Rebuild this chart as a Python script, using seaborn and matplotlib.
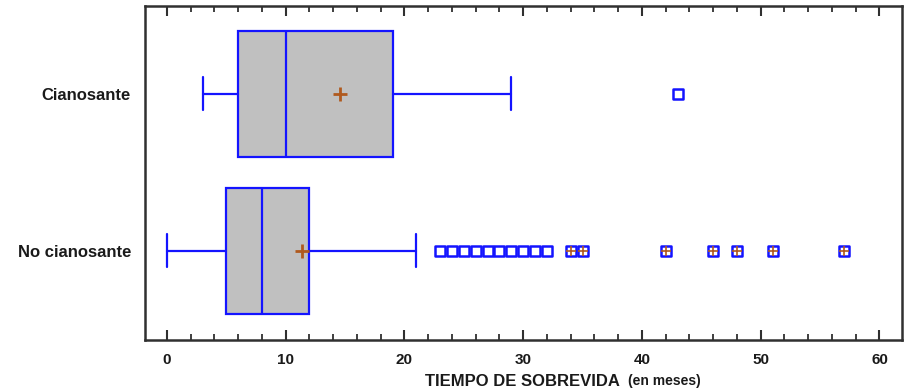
import matplotlib
matplotlib.use("Agg")
import matplotlib.pyplot as plt
import seaborn as sns
import pandas as pd
from matplotlib.ticker import MultipleLocator

# ---- data ----
categories = ["Cianosante", "No cianosante"]
whislo = [3, 0]
q1 = [6, 5]
median = [10, 8]
q3 = [19, 12]
whishi = [29, 21]
means = [14.6, 11.4]
outliers_cian = [43]
outliers_no = [23, 24, 25, 26, 27, 28, 29, 30, 31, 32, 34, 35, 42, 46, 48, 51, 57]
far_outliers_no = [34, 35, 42, 46, 48, 51, 57]
xlabel_main = "TIEMPO DE SOBREVIDA"
xlabel_unit = "(en meses)"

sns.set_theme(style="white")
plt.rcParams["font.family"] = ["Liberation Sans", "DejaVu Sans"]

BLUE = "#1414ff"
GRAY = "#c0c0c0"
MEANC = "#b0591e"
SPINE = "#303030"
TXT = "#1a1a1a"

fig = plt.figure(figsize=(9.08, 3.92), dpi=100)
ax = fig.add_axes([145 / 908, 1 - 340 / 392, (902 - 145) / 908, (340 - 6) / 392])

stats = []
for i, c in enumerate(categories):
    stats.append(dict(label=c, whislo=whislo[i], q1=q1[i], med=median[i],
                      q3=q3[i], whishi=whishi[i], fliers=[]))

ax.bxp(stats, positions=[0, 1], widths=0.8, orientation="horizontal",
       patch_artist=True, manage_ticks=False, capwidths=0.21,
       boxprops=dict(facecolor=GRAY, edgecolor=BLUE, linewidth=1.6),
       medianprops=dict(color=BLUE, linewidth=1.6),
       whiskerprops=dict(color=BLUE, linewidth=1.6),
       capprops=dict(color=BLUE, linewidth=1.6))

# outliers
fl = pd.DataFrame({
    "x": outliers_cian + outliers_no,
    "y": [0] * len(outliers_cian) + [1] * len(outliers_no),
})
sns.scatterplot(data=fl, x="x", y="y", ax=ax, marker="s", s=50,
                facecolor="white", edgecolor=BLUE, linewidth=1.8, zorder=4)

far = pd.DataFrame({"x": far_outliers_no, "y": [1] * len(far_outliers_no)})
sns.scatterplot(data=far, x="x", y="y", ax=ax, marker="+", s=45,
                color=MEANC, linewidth=1.2, zorder=5)

mn = pd.DataFrame({"x": means, "y": [0, 1]})
sns.scatterplot(data=mn, x="x", y="y", ax=ax, marker="+", s=110,
                color=MEANC, linewidth=2.0, zorder=5)

ax.set_xlim(-1.85, 61.9)
ax.set_ylim(1.567, -0.56)
ax.set_yticks([0, 1])
ax.set_yticklabels(categories, fontsize=12, fontweight="bold", color=TXT)
ax.set_xticks(range(0, 61, 10))
ax.set_xticklabels([str(v) for v in range(0, 61, 10)], fontsize=11,
                   fontweight="bold", color=TXT)
ax.xaxis.set_minor_locator(MultipleLocator(2))
ax.tick_params(axis="x", which="major", direction="in", length=7, width=1.5,
               top=True, bottom=True, color=SPINE, pad=9)
ax.tick_params(axis="x", which="minor", direction="in", length=4.5, width=1.3,
               top=True, bottom=True, color=SPINE)
ax.tick_params(axis="y", which="both", length=0, pad=10)
ax.set_xlabel("")
ax.set_ylabel("")
for s in ax.spines.values():
    s.set_visible(True)
    s.set_color(SPINE)
    s.set_linewidth(1.8)

t1 = fig.text(425 / 908, 1 - 381 / 392, xlabel_main, fontsize=12,
              fontweight="bold", color=TXT, ha="left", va="center")
fig.canvas.draw()
bb = t1.get_window_extent(renderer=fig.canvas.get_renderer())
fig.text((bb.x1 + 8) / 908, 1 - 381 / 392, xlabel_unit, fontsize=10,
         fontweight="bold", color=TXT, ha="left", va="center")

fig.savefig("out.png", dpi=100)
